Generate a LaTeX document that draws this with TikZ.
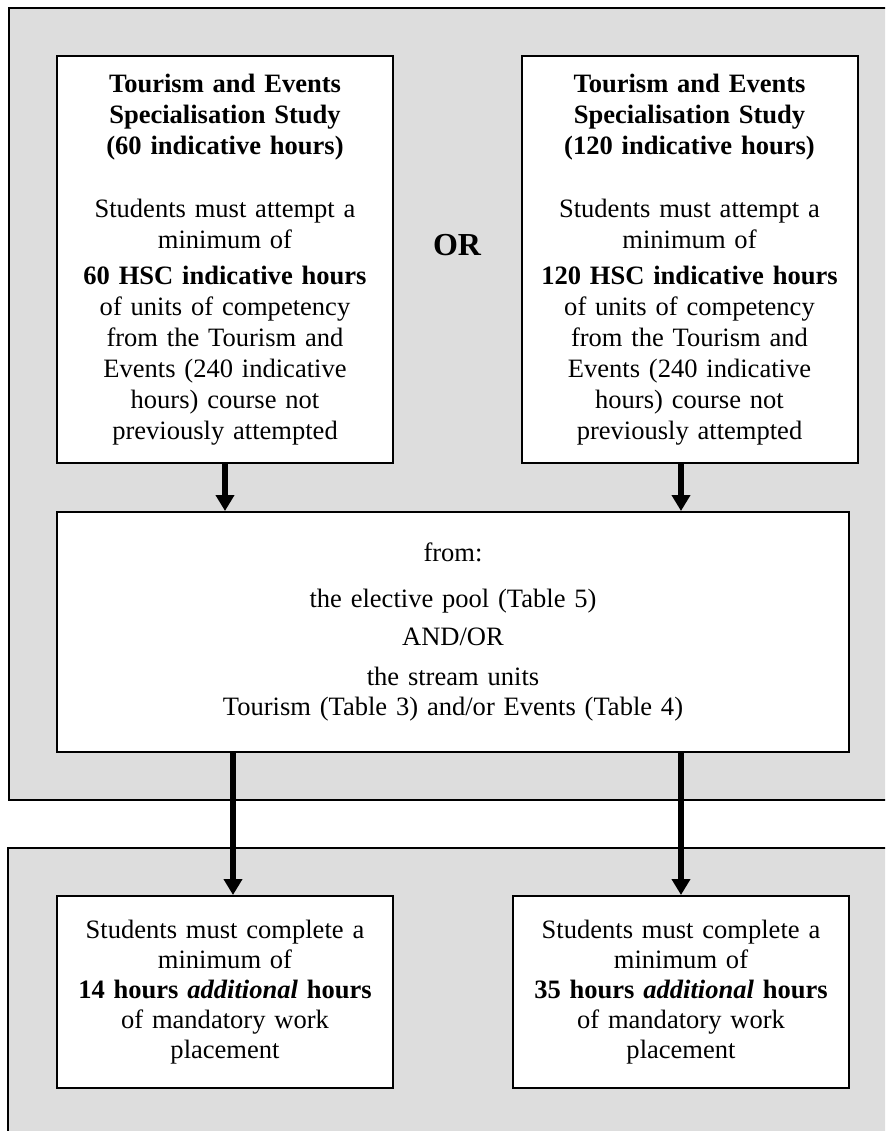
\documentclass[tikz,border=0pt]{standalone}
\usepackage{fontspec}
\setmainfont{Liberation Serif}
\usepackage{xcolor}
\usetikzlibrary{arrows.meta}

\definecolor{panelgray}{RGB}{221,221,221}

\tikzset{
  panel/.style={fill=panelgray, draw=black, line width=1.5pt},
  card/.style={draw=black, fill=white, line width=1.5pt, align=center, inner sep=0pt},
  toptext/.style={font=\fontsize{19.9}{23.25}\selectfont},
  lowtext/.style={font=\fontsize{19.9}{22.5}\selectfont},
  flow/.style={-{Triangle[width=13.5pt, length=12pt]}, line width=4.5pt},
}

\begin{document}
\begin{tikzpicture}[x=0.75pt, y=-0.75pt]
  \useasboundingbox (0,0) rectangle (885,1131);
  \clip (0,0) rectangle (885,1131);

  % grey panels
  \draw[panel] (9,8) rectangle (900,800);
  \draw[panel] (8,848) rectangle (900,1145);

  % specialisation study boxes
  \node[card, toptext, text width=240pt, minimum width=252pt, minimum height=305.25pt] (tl) at (225,259.5)
    {\textbf{Tourism and Events}\\ \textbf{Specialisation Study}\\ \textbf{(60 indicative hours)}\\[24pt]
     Students must attempt a\\ minimum of\\[3.75pt] \textbf{60 HSC indicative hours}\\ of units of competency\\
     from the Tourism and\\ Events (240 indicative\\ hours) course not\\ previously attempted};
  \node[card, toptext, text width=240pt, minimum width=252pt, minimum height=305.25pt] (tr) at (689.5,259.5)
    {\textbf{Tourism and Events}\\ \textbf{Specialisation Study}\\ \textbf{(120 indicative hours)}\\[24pt]
     Students must attempt a\\ minimum of\\[3.75pt] \textbf{120 HSC indicative hours}\\ of units of competency\\
     from the Tourism and\\ Events (240 indicative\\ hours) course not\\ previously attempted};
  \node[font=\fontsize{24}{28}\selectfont\bfseries] (or) at (457,245) {OR};

  % unit sources
  \node[card, lowtext, text width=580pt, minimum width=594pt, minimum height=180pt] (mid) at (453,632)
    {from:\\[12pt] the elective pool (Table 5)\\[6pt] AND/OR\\[7.5pt] the stream units\\
     Tourism (Table 3) and/or Events (Table 4)};

  % work placement boxes
  \node[card, lowtext, text width=240pt, minimum width=252pt, minimum height=144pt] (bl) at (225,992)
    {Students must complete a\\ minimum of\\ \textbf{14 hours \textit{additional} hours}\\ of mandatory work\\ placement};
  \node[card, lowtext, text width=240pt, minimum width=252pt, minimum height=144pt] (br) at (681,992)
    {Students must complete a\\ minimum of\\ \textbf{35 hours \textit{additional} hours}\\ of mandatory work\\ placement};

  % arrows
  \coordinate (ldrop) at ([xshift=6pt]bl.north);
  \draw[flow] (tl.south) -- (tl.south |- mid.north);
  \draw[flow] (tr.south -| br.north) -- (mid.north -| br.north);
  \draw[flow] (mid.south -| ldrop) -- (ldrop);
  \draw[flow] (mid.south -| br.north) -- (br.north);
\end{tikzpicture}
\end{document}
